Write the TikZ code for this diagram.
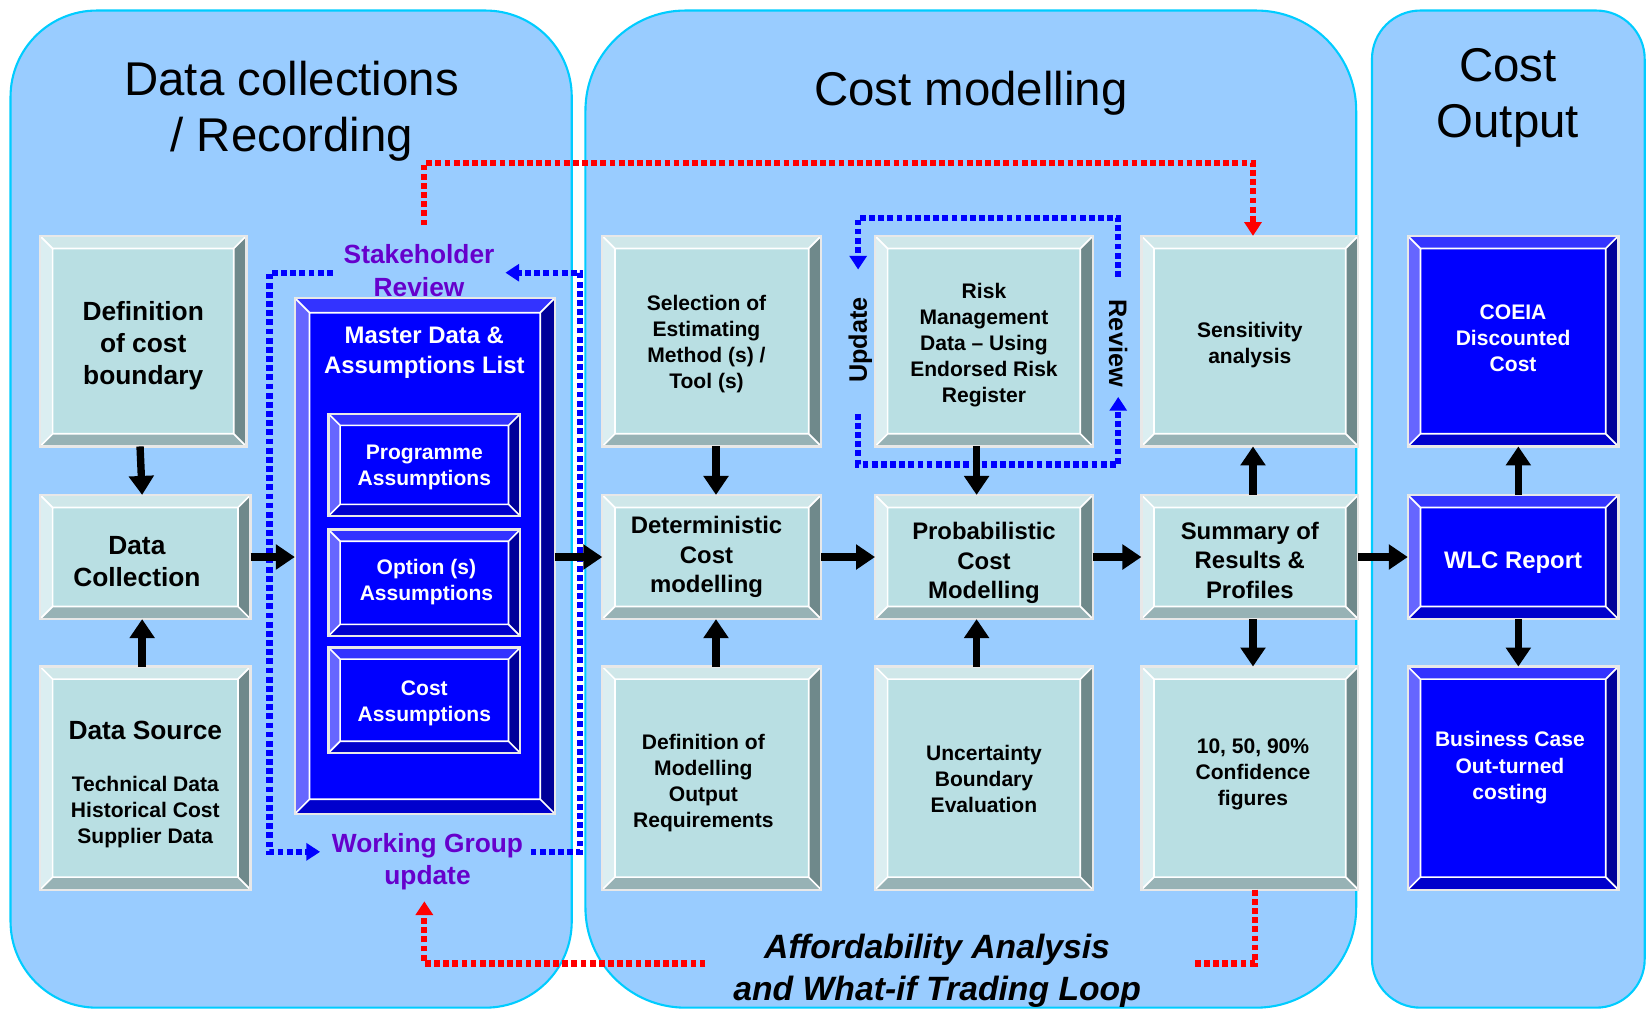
\documentclass[tikz,border=0pt]{standalone}
\usepackage{fontspec}
\setmainfont{Liberation Sans}
\usetikzlibrary{arrows.meta,calc}
\definecolor{panelfill}{HTML}{99CCFF}
\definecolor{panelline}{HTML}{00CCFF}
\definecolor{tealF}{HTML}{B9DFE3}
\definecolor{tealT}{HTML}{CFE7E9}
\definecolor{tealL}{HTML}{DBEEF1}
\definecolor{tealR}{HTML}{6F898B}
\definecolor{tealB}{HTML}{97B2B5}
\colorlet{tealX}{black}
\definecolor{blueF}{HTML}{0000FF}
\definecolor{blueT}{HTML}{3333FF}
\definecolor{blueL}{HTML}{6666FF}
\definecolor{blueR}{HTML}{000099}
\definecolor{blueB}{HTML}{0000CC}
\colorlet{blueX}{white}
\definecolor{purp}{HTML}{6600CC}
\definecolor{edgegray}{HTML}{E8E8E8}
\newcommand\fA{\fontsize{20}{24.7}\selectfont\bfseries}
\newcommand\fB{\fontsize{22.7}{28}\selectfont\bfseries}
\newcommand\fC{\fontsize{25}{30.5}\selectfont\bfseries}
\newcommand\fT{\fontsize{45}{53}\selectfont}
% name, x1, y1, x2, y2, bevel, palette, text options, text
\newcommand\bvbox[9]{%
 \fill[#7F] (#2,#3) rectangle (#4,#5);
 \fill[#7T] (#2,#3) -- (#4,#3) -- ({#4-#6},{#3+#6}) -- ({#2+#6},{#3+#6}) -- cycle;
 \fill[#7L] (#2,#3) -- ({#2+#6},{#3+#6}) -- ({#2+#6},{#5-#6}) -- (#2,#5) -- cycle;
 \fill[#7R] (#4,#3) -- ({#4-#6},{#3+#6}) -- ({#4-#6},{#5-#6}) -- (#4,#5) -- cycle;
 \fill[#7B] (#2,#5) -- ({#2+#6},{#5-#6}) -- ({#4-#6},{#5-#6}) -- (#4,#5) -- cycle;
 \draw[white, line width=1.6pt] ({#2+#6},{#3+#6}) rectangle ({#4-#6},{#5-#6})
   (#2,#3) -- ({#2+#6},{#3+#6}) (#4,#3) -- ({#4-#6},{#3+#6})
   (#2,#5) -- ({#2+#6},{#5-#6}) (#4,#5) -- ({#4-#6},{#5-#6});
 \draw[edgegray, line width=2.2pt] (#2,#3) rectangle (#4,#5);
 \node[inner sep=0pt, outer sep=0pt, minimum width={(#4-#2)*1pt}, minimum height={(#5-#3)*1pt}] (#1) at ({(#2+#4)/2},{(#3+#5)/2}) {};
 \node[inner sep=0pt, align=center, text=#7X, #8] (#1t) at (#1.center) {#9};
}
\tikzset{
 panel/.style={fill=panelfill, draw=panelline, line width=2pt},
 bdot/.style={draw=blue, line width=6pt, dash pattern=on 5.5pt off 3.2pt},
 rdot/.style={draw=red, line width=6pt, dash pattern=on 5.5pt off 3.2pt},
 dtip/.style={-{Triangle[length=13pt,width=16pt]}},
 blk/.style={line width=7pt, -{Triangle[length=18pt,width=23pt]}},
 ttl/.style={align=center, font=\fT, inner sep=0pt},
 purplab/.style={align=center, text=purp, font=\fC, inner sep=0pt},
}
\begin{document}
\begin{tikzpicture}[x=1pt,y=-1pt]
\useasboundingbox (0,0) rectangle (1568,959);
% panels
\draw[panel, rounded corners=82pt] (10,10) rectangle (543,957);
\draw[panel, rounded corners=95pt] (556,10) rectangle (1288,957);
\draw[panel, rounded corners=46pt] (1303,10) rectangle (1562,957);
% titles
\node[ttl] (t1) at (277,106) {Data collections\\/ Recording};
\node[ttl] (t2) at (922,89) {Cost modelling};
\node[ttl] (t3) at (1432,93) {Cost\\Output};
% purple labels
\node[purplab] (sr) at (398,257) {Stakeholder\\Review};
\node[purplab] (wg) at (406,818) {Working Group\\update};
% stakeholder / working group loop
\coordinate (s1) at (504,809);
\coordinate (s2) at (551,259);
\coordinate (s3) at (480,259);
\coordinate (s4) at (316,259);
\coordinate (s5) at (256,809);
\coordinate (s6) at (304,809);
\draw[bdot,dtip] (s1) -| (s2) -- (s3);
\draw[bdot,dtip] (s4) -| (s5) -- (s6);
% risk loop
\coordinate (r1) at (815,393);
\coordinate (r2) at (1062,441);
\coordinate (r3) at (1062,377);
\coordinate (r4) at (1062,263);
\coordinate (r5) at (815,207);
\coordinate (r6) at (815,256);
\draw[bdot,dtip] (r1) |- (r2) -- (r3);
\draw[bdot,dtip] (r4) |- (r5) -- (r6);
\node[font=\fontsize{24}{28}\selectfont\bfseries, rotate=90, inner sep=0pt] (upd) at (817,323) {Update};
\node[font=\fontsize{24}{28}\selectfont\bfseries, rotate=-90, inner sep=0pt] (rev) at (1062,326) {Review};
% boxes column 1
\bvbox{dcb}{38}{224}{234}{424}{12}{teal}{font=\fC, yshift=-4pt}{Definition\\of cost\\boundary}
\bvbox{dc}{38}{470}{238}{588}{12}{teal}{font=\fC, yshift=-4pt, xshift=-8pt}{Data\\Collection}
\bvbox{ds}{38}{633}{238}{845}{12}{teal}{font=\fA, yshift=-6pt}{{\fC Data Source}\\[24pt]Technical Data\\Historical Cost\\Supplier Data}
% master
\bvbox{md}{280}{283}{527}{773}{14}{blue}{}{}
\node[align=center, text=white, font=\fB, inner sep=0pt] (mdt) at (403,335) {Master Data \&\\Assumptions List};
\bvbox{pa}{312}{393}{494}{490}{11}{blue}{font=\fA, yshift=-2pt}{Programme\\Assumptions}
\bvbox{oa}{312}{503}{494}{604}{11}{blue}{font=\fA, yshift=1pt, xshift=2pt}{Option (s)\\Assumptions}
\bvbox{ca}{312}{615}{494}{715}{11}{blue}{font=\fA, yshift=-3pt}{Cost\\Assumptions}
% column 2
\bvbox{sel}{572}{224}{780}{424}{12}{teal}{font=\fA, yshift=-3pt, xshift=-5pt}{Selection of\\Estimating\\Method (s) /\\Tool (s)}
\bvbox{det}{572}{470}{780}{588}{12}{teal}{font=\fB, xshift=-5pt}{Deterministic\\Cost\\modelling}
\bvbox{dmo}{572}{633}{780}{845}{12}{teal}{font=\fA, yshift=-5pt, xshift=-8pt}{Definition of\\Modelling\\Output\\Requirements}
% column 3
\bvbox{risk}{831}{224}{1038}{424}{12}{teal}{font=\fA, yshift=-4pt}{Risk\\Management\\Data -- Using\\Endorsed Risk\\Register}
\bvbox{prob}{831}{470}{1038}{588}{12}{teal}{font=\fB, yshift=-6pt}{Probabilistic\\Cost\\Modelling}
\bvbox{unc}{831}{633}{1038}{845}{12}{teal}{font=\fA, yshift=-1pt}{Uncertainty\\Boundary\\Evaluation}
% column 4
\bvbox{sens}{1084}{224}{1290}{424}{12}{teal}{font=\fA, yshift=-4pt}{Sensitivity\\analysis}
\bvbox{sum}{1084}{470}{1290}{588}{12}{teal}{font=\fB, yshift=-3pt}{Summary of\\Results \&\\Profiles}
\bvbox{conf}{1084}{633}{1290}{845}{12}{teal}{font=\fA, yshift=4pt, xshift=3pt}{10, 50, 90\%\\Confidence\\figures}
% column 5
\bvbox{coeia}{1337}{224}{1537}{424}{12}{blue}{font=\fA, yshift=3pt}{COEIA\\Discounted\\Cost}
\bvbox{wlc}{1337}{470}{1537}{588}{12}{blue}{font=\fB, yshift=-5pt}{WLC Report}
\bvbox{bc}{1337}{633}{1537}{845}{12}{blue}{font=\fA, yshift=10pt, xshift=-3pt}{Business Case\\Out-turned\\costing}
% black arrows
\draw[blk] ([xshift=-3pt]dcb.south) -- ([xshift=-3pt]dc.north);
\draw[blk] ([xshift=-3pt]ds.north) -- ([xshift=-3pt]dc.south);
\draw[blk] (dc.east) -- (dc.east -| md.west);
\draw[blk] (dc.east -| md.east) -- (dc.east -| det.west);
\draw[blk] ([xshift=4pt]sel.south) -- ([xshift=4pt]det.north);
\draw[blk] ([xshift=4pt]dmo.north) -- ([xshift=4pt]det.south);
\draw[blk] (det.east) -- (prob.west);
\draw[blk] ([xshift=-7pt]risk.south) -- ([xshift=-7pt]prob.north);
\draw[blk] ([xshift=-7pt]unc.north) -- ([xshift=-7pt]prob.south);
\draw[blk] (prob.east) -- (sum.west);
\draw[blk] ([xshift=3pt]sum.north) -- ([xshift=3pt]sens.south);
\draw[blk] ([xshift=3pt]sum.south) -- ([xshift=3pt]conf.north);
\draw[blk] (sum.east) -- (wlc.west);
\draw[blk] ([xshift=5pt]wlc.north) -- ([xshift=5pt]coeia.south);
\draw[blk] ([xshift=5pt]wlc.south) -- ([xshift=5pt]bc.north);
% red loop
\coordinate (rt0) at (403,214);
\coordinate (rtc) at (800,155);
\draw[rdot,dtip] (rt0) |- (rtc) -| ([xshift=3pt]sens.north);
\coordinate (rb1) at (1133,915);
\coordinate (rb2) at (670,915);
\coordinate (rb3) at (403,856);
\draw[rdot] ([xshift=5pt]conf.south) |- (rb1);
\draw[rdot,dtip] (rb2) -| (rb3);
\node[align=center, font=\fontsize{32}{40}\selectfont\bfseries\itshape, inner sep=0pt] (aff) at (890,922) {Affordability Analysis\\and What-if Trading Loop};
\end{tikzpicture}
\end{document}
